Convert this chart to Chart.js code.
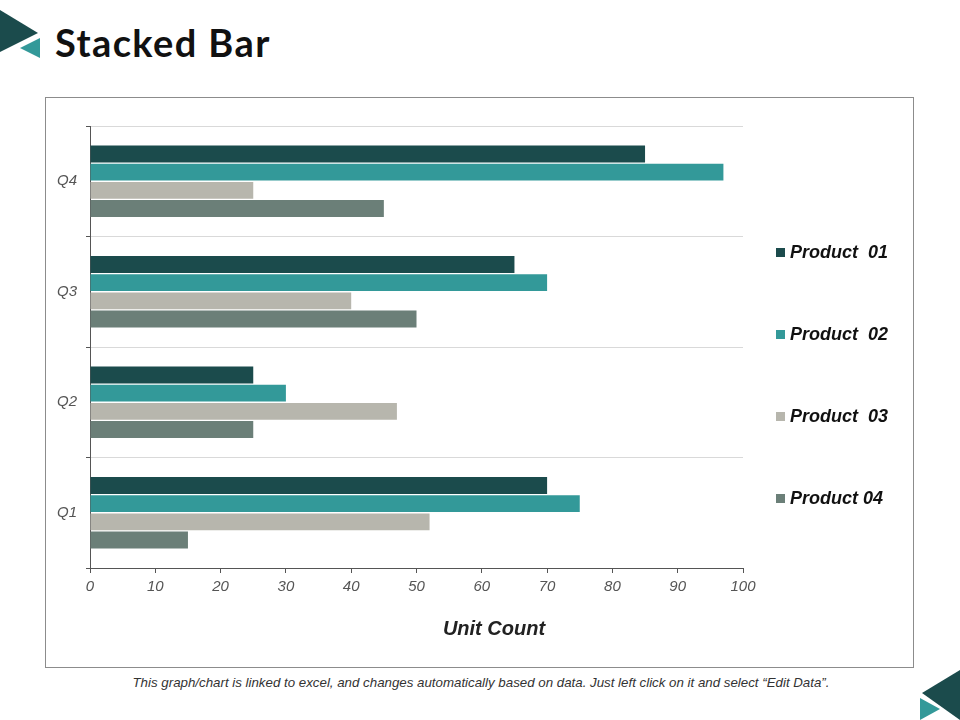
<!DOCTYPE html>
<html>
<head>
<meta charset="utf-8">
<script src="https://cdn.jsdelivr.net/npm/chart.js@4/dist/chart.umd.min.js"></script>
<style>
  body { margin: 0; width: 960px; height: 720px; background: #fff; position: relative; overflow: hidden; font-family: "Liberation Sans", Arial, sans-serif; }
  #deco { position: absolute; left: 0; top: 0; }
  h1 { position: absolute; left: 55px; top: 19px; margin: 0; font: bold 38px "Lato", "Noto Sans", sans-serif; color: #111; letter-spacing: 1.4px; }
  #frame { position: absolute; left: 45px; top: 97px; width: 867px; height: 569px; border: 1px solid #8c8c8c; }
  #wrap { position: absolute; left: 45px; top: 97px; width: 868px; height: 570px; }
  #axisTitle { position: absolute; left: 0; width: 988px; top: 617px; text-align: center; font: italic bold 20px "Liberation Sans", sans-serif; color: #222; }
  #legend { position: absolute; left: 776px; top: 0; }
  .item { position: absolute; left: 0; white-space: pre; font: italic bold 18px "Liberation Sans", Arial, sans-serif; color: #111; line-height: 20px; }
  .item span { display: inline-block; width: 9px; height: 9px; margin-right: 5px; vertical-align: 1px; }
  #note { position: absolute; left: 0; width: 962px; top: 675px; text-align: center; font: italic 13.3px "Liberation Sans", sans-serif; color: #333; }
</style>
</head>
<body>
<svg id="deco" width="960" height="720">
  <polygon points="0,10 38,33 0,52" fill="#1b4b4c"/>
  <polygon points="20,48 40,38 40,58" fill="#339999"/>
  <polygon points="922,693 960,670 960,720" fill="#1b4b4c"/>
  <polygon points="920,698 940,709 920,720" fill="#339999"/>
</svg>
<h1>Stacked Bar</h1>
<div id="frame"></div>
<div id="wrap"><canvas id="chart"></canvas></div>
<div id="axisTitle">Unit Count</div>
<div id="legend"></div>
<div id="note">This graph/chart is linked to excel, and changes automatically  based on data. Just left click on it and select “Edit Data”.</div>
<script>
const quarters = ['Q1', 'Q2', 'Q3', 'Q4'];
const productNames = ['Product  01', 'Product  02', 'Product  03', 'Product 04'];
const product01 = [70, 25, 65, 85];
const product02 = [75, 30, 70, 97];
const product03 = [52, 47, 40, 25];
const product04 = [15, 25, 50, 45];
const xTicks = [0, 10, 20, 30, 40, 50, 60, 70, 80, 90, 100];
const colors = ['#1b4b4c', '#339999', '#b7b6ad', '#6b7f78'];

const series = [product01, product02, product03, product04];
const tickFont = { family: '"Liberation Sans", sans-serif', size: 15, style: 'italic' };

const ctx = document.getElementById('chart').getContext('2d');
const chart = new Chart(ctx, {
    type: 'bar',
    data: {
        labels: quarters,
        datasets: series.map((values, i) => ({
            label: productNames[i],
            data: values,
            backgroundColor: colors[i],
            borderWidth: 0,
            categoryPercentage: 0.66,
            barPercentage: 0.93
        }))
    },
    options: {
        indexAxis: 'y',
        responsive: true,
        maintainAspectRatio: false,
        animation: false,
        layout: { padding: { top: 29, right: 170, bottom: 69, left: 0 } },
        scales: {
            x: {
                min: 0,
                max: 100,
                afterBuildTicks: (scale) => { scale.ticks = xTicks.map(v => ({ value: v })); },
                afterFit: (scale) => { scale.height = 30; },
                grid: { drawOnChartArea: false, tickLength: 5, tickColor: '#555' },
                border: { color: '#555', width: 1 },
                ticks: { color: '#555', font: tickFont, padding: 5 }
            },
            y: {
                reverse: true,
                afterFit: (scale) => { scale.width = 45; },
                grid: { color: '#d9d9d9', tickLength: 4, tickColor: '#555' },
                border: { color: '#555', width: 1 },
                ticks: { color: '#555', font: tickFont, padding: 9 }
            }
        },
        plugins: {
            legend: { display: false },
            tooltip: { enabled: false }
        }
    }
});

// legend built from the dataset names and colours
const legend = document.getElementById('legend');
const legendY = [242, 324, 406, 488];
chart.data.datasets.forEach((ds, i) => {
    const item = document.createElement('div');
    item.className = 'item';
    item.style.top = legendY[i] + 'px';
    item.innerHTML = '<span style="background:' + ds.backgroundColor + '"></span>' + ds.label;
    legend.appendChild(item);
});
</script>
</body>
</html>
